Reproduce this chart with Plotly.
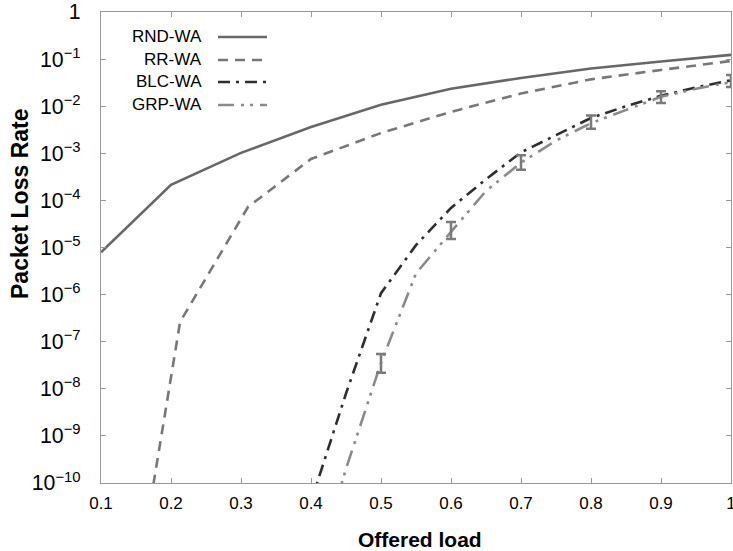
import plotly.graph_objects as go

# Offered load (x) and log10 packet loss rates
rnd_x = [0.1, 0.2, 0.3, 0.4, 0.5, 0.6, 0.7, 0.8, 0.9, 1.0]
rnd_logy = [-5.1, -3.67, -2.99, -2.44, -1.97, -1.63, -1.40, -1.20, -1.05, -0.91]

rr_x = [0.1, 0.213, 0.31, 0.4, 0.5, 0.6, 0.7, 0.8, 0.9, 1.0]
rr_logy = [-16.8, -6.58, -4.14, -3.12, -2.57, -2.12, -1.73, -1.43, -1.23, -1.04]

blc_x = [0.4, 0.45, 0.5, 0.55, 0.6, 0.65, 0.7, 0.75, 0.8, 0.85, 0.9, 0.95, 1.0]
blc_logy = [-10.4, -8.1, -5.97, -4.95, -4.16, -3.55, -2.98, -2.62, -2.25, -2.0, -1.78, -1.6, -1.45]

grp_x = [0.4, 0.45, 0.5, 0.55, 0.6, 0.65, 0.7, 0.75, 0.8, 0.85, 0.9, 0.95, 1.0]
grp_logy = [-12.2, -9.7, -7.45, -5.55, -4.67, -3.8, -3.2, -2.73, -2.36, -2.08, -1.80, -1.63, -1.49]

# error bars (log10 of upper / lower ends) for GRP-WA
grp_err_x = [0.5, 0.6, 0.7, 0.8, 0.9, 1.0]
grp_err_hi_log = [-7.26, -4.46, -3.04, -2.20, -1.68, -1.34]
grp_err_lo_log = [-7.66, -4.82, -3.35, -2.48, -1.93, -1.59]

legend_names = ["RND-WA", "RR-WA", "BLC-WA", "GRP-WA"]
x_ticks = [0.1, 0.2, 0.3, 0.4, 0.5, 0.6, 0.7, 0.8, 0.9, 1.0]
x_tick_text = ["0.1", "0.2", "0.3", "0.4", "0.5", "0.6", "0.7", "0.8", "0.9", "1"]
x_title = "Offered load"
y_title = "Packet Loss Rate"

def p10(v):
    return [10 ** a for a in v]

colors = ["#676767", "#777777", "#2e2e2e", "#8a8a8a"]
dashes = ["solid", "10px,7px", "12px,6px,3px,6px", "16px,7px,3px,6px,3px,7px"]
FONT = "Liberation Sans, Arial"

fig = go.Figure()
series = [(rnd_x, rnd_logy), (rr_x, rr_logy), (blc_x, blc_logy), (grp_x, grp_logy)]
for (xs, ls), name, c, d in zip(series, legend_names, colors, dashes):
    fig.add_trace(go.Scatter(x=xs, y=p10(ls), mode="lines", name=name,
                             line=dict(color=c, width=2.6, dash=d),
                             showlegend=False))

# GRP-WA error bars
mid, up, dn = [], [], []
for x, h, l in zip(grp_err_x, grp_err_hi_log, grp_err_lo_log):
    m = 10 ** ((h + l) / 2)
    mid.append(m)
    up.append(10 ** h - m)
    dn.append(m - 10 ** l)
fig.add_trace(go.Scatter(x=grp_err_x, y=mid, mode="markers", showlegend=False,
                         marker=dict(size=1, color="rgba(0,0,0,0)"),
                         error_y=dict(type="data", array=up, arrayminus=dn,
                                      color="#7a7a7a", thickness=2.5, width=5)))

L, R, T, B = 101, 2, 12, 68
W, H = 733, 551
pw, ph = W - L - R, H - T - B

def px2paper(px, py):
    return (px - L) / pw, (H - B - py) / ph

fig.update_layout(
    width=W, height=H,
    margin=dict(l=L, r=R, t=T, b=B),
    paper_bgcolor="white", plot_bgcolor="white",
    font=dict(family=FONT, size=17, color="#000"),
    xaxis=dict(range=[0.1, 1.0], tickvals=x_ticks, ticktext=x_tick_text,
               showgrid=False, zeroline=False, showline=True, linecolor="#999",
               linewidth=1, mirror="ticks", ticks="inside", ticklen=5,
               tickcolor="#999", ticklabelstandoff=5, automargin=False,
               ticklabeloverflow="allow"),
    yaxis=dict(type="log", range=[-10, 0], dtick=1, exponentformat="power",
               showgrid=False, zeroline=False, showline=True, linecolor="#999",
               linewidth=1, mirror="ticks", ticks="inside", ticklen=5,
               tickcolor="#999", ticklabelstandoff=16, automargin=False,
               ticklabeloverflow="allow"),
)

# axis titles
xt = px2paper(420, 539)
fig.add_annotation(x=xt[0], y=xt[1], xref="paper", yref="paper", text="<b>" + x_title + "</b>",
                   showarrow=False, xanchor="center", yanchor="middle",
                   font=dict(family=FONT, size=21, color="#000"))
yt = px2paper(20, 204)
fig.add_annotation(x=yt[0], y=yt[1], xref="paper", yref="paper", text="<b>" + y_title + "</b>",
                   showarrow=False, xanchor="center", yanchor="middle", textangle=-90,
                   font=dict(family=FONT, size=23, color="#000"))

# custom legend: label text followed by a line sample (pixel positions -> paper)
leg_y = [37, 60, 82, 105]
for name, c, d, yy in zip(legend_names, colors, dashes, leg_y):
    x0, yp = px2paper(218, yy)
    x1, _ = px2paper(267, yy)
    fig.add_shape(type="line", xref="paper", yref="paper",
                  x0=x0, x1=x1, y0=yp, y1=yp,
                  line=dict(color=c, width=2.6, dash=d))
    xa, _ = px2paper(204, yy)
    fig.add_annotation(x=xa, y=yp, xref="paper", yref="paper",
                       text=name, showarrow=False, xanchor="right", yanchor="middle",
                       font=dict(family=FONT, size=17, color="#000"))

fig.write_html("out.html", config={"displayModeBar": False},
               post_script="document.body.style.margin='0';document.body.style.overflow='hidden';")
